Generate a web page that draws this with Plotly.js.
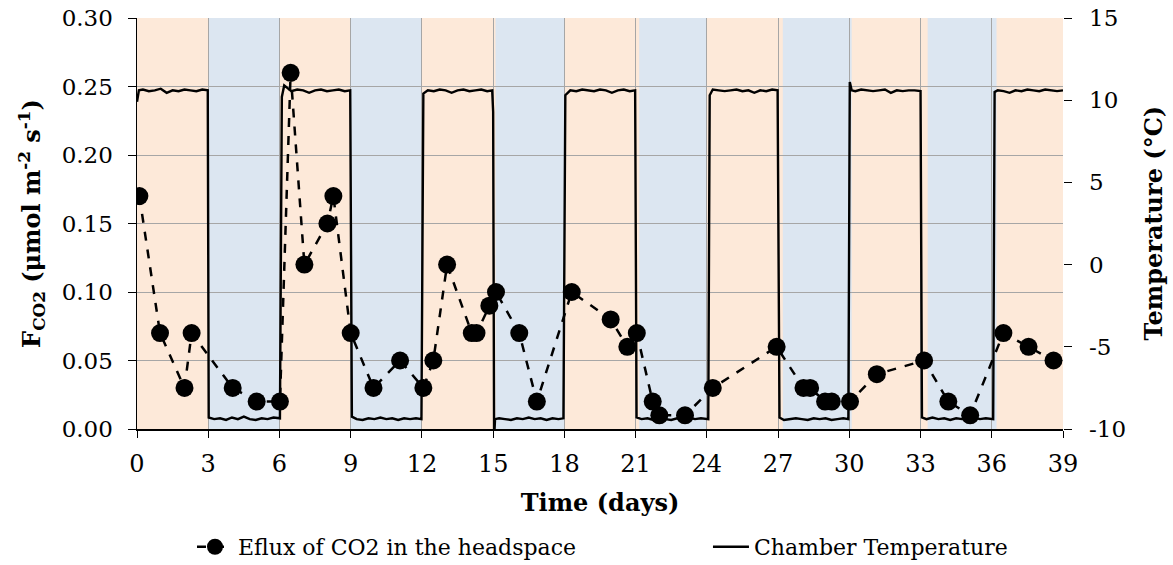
<!DOCTYPE html>
<html>
<head>
<meta charset="utf-8">
<script src="https://cdn.plot.ly/plotly-3.0.1.min.js"></script>
<style>html,body{margin:0;padding:0;background:#fff;}#chart{width:1173px;height:565px;}</style>
</head>
<body>
<div id="chart"></div>
<script>
// CO2 efflux (left axis)
const fluxDays = [0.1,0.97,2.0,2.3,4.03,5.04,6.02,6.47,7.05,8.02,8.27,9.0,9.96,11.08,12.06,12.48,13.06,14.1,14.3,14.84,15.12,16.1,16.84,18.31,19.95,20.65,21.05,21.72,22.0,23.08,24.25,26.94,28.07,28.35,28.98,29.26,30.03,31.16,33.15,34.17,35.09,36.49,37.55,38.6];
const fluxVals = [0.17,0.07,0.03,0.07,0.03,0.02,0.02,0.26,0.12,0.15,0.17,0.07,0.03,0.05,0.03,0.05,0.12,0.07,0.07,0.09,0.10,0.07,0.02,0.10,0.08,0.06,0.07,0.02,0.01,0.01,0.03,0.06,0.03,0.03,0.02,0.02,0.02,0.04,0.05,0.02,0.01,0.07,0.06,0.05];

// Chamber temperature (right axis)
const tempDays = [
 0,0.08,0.25,0.5,0.75,1,1.25,1.5,1.75,2,2.25,2.5,2.75,2.98,
 3.02,3.25,3.5,3.75,4,4.25,4.5,4.75,5,5.25,5.5,5.75,6.02,
 6.1,6.2,6.5,6.75,7,7.25,7.5,7.75,8,8.25,8.5,8.75,8.98,
 9.05,9.25,9.5,9.75,10,10.25,10.5,10.75,11,11.25,11.5,11.75,11.98,
 12.02,12.06,12.25,12.5,12.75,13,13.25,13.5,13.75,14,14.25,14.5,14.75,14.96,15.0,
 15.04,15.08,15.25,15.5,15.75,16,16.25,16.5,16.75,17,17.25,17.5,17.75,17.96,
 18.04,18.25,18.5,18.75,19,19.25,19.5,19.75,20,20.25,20.5,20.75,20.98,
 21.04,21.25,21.5,21.75,22,22.25,22.5,22.75,23,23.25,23.5,23.75,24.06,
 24.12,24.25,24.5,24.75,25,25.25,25.5,25.75,26,26.25,26.5,26.75,26.98,
 27.06,27.25,27.5,27.75,28,28.25,28.5,28.75,29,29.25,29.5,29.75,29.96,
 30.02,30.1,30.25,30.5,30.75,31,31.25,31.5,31.75,32,32.25,32.5,32.75,33.0,
 33.06,33.25,33.5,33.75,34,34.25,34.5,34.75,35,35.25,35.5,35.75,36.06,
 36.12,36.25,36.5,36.75,37,37.25,37.5,37.75,38,38.25,38.5,38.75,39.0
];
const tempC = [
 9.9,10.6,10.65,10.55,10.6,10.7,10.45,10.6,10.55,10.65,10.6,10.55,10.65,10.6,
 -9.3,-9.4,-9.35,-9.45,-9.3,-9.4,-9.25,-9.4,-9.45,-9.35,-9.4,-9.3,-9.35,
 10.2,10.9,10.55,10.65,10.6,10.45,10.6,10.65,10.55,10.6,10.65,10.55,10.6,
 -9.25,-9.4,-9.45,-9.35,-9.4,-9.3,-9.4,-9.35,-9.45,-9.35,-9.4,-9.35,-9.4,
 5.4,10.4,10.6,10.55,10.65,10.6,10.45,10.6,10.65,10.55,10.6,10.65,10.55,10.6,9.3,
 -10.6,-9.4,-9.35,-9.4,-9.45,-9.35,-9.4,-9.3,-9.4,-9.35,-9.45,-9.35,-9.4,-9.35,
 10.3,10.6,10.55,10.65,10.6,10.55,10.65,10.6,10.45,10.6,10.65,10.55,10.6,
 -9.3,-9.4,-9.35,-9.45,-9.35,-9.4,-9.45,-9.35,-9.4,-9.3,-9.4,-9.35,-9.4,
 10.3,10.65,10.6,10.55,10.6,10.65,10.55,10.6,10.45,10.6,10.55,10.65,10.6,
 -9.3,-9.45,-9.4,-9.35,-9.4,-9.45,-9.35,-9.4,-9.35,-9.45,-9.4,-9.35,-9.4,
 11.1,10.6,10.55,10.65,10.6,10.55,10.6,10.65,10.45,10.6,10.55,10.6,10.6,10.55,
 -9.3,-9.4,-9.3,-9.4,-9.35,-9.45,-9.35,-9.4,-9.35,-9.3,-9.4,-9.35,-9.4,
 10.5,10.6,10.55,10.45,10.6,10.55,10.65,10.6,10.55,10.65,10.6,10.55,10.6
];

// Cold-period background bands (days)
const bandStart = [3.0, 9.0, 15.1, 21.15, 27.2, 33.3];
const bandEnd   = [6.0, 12.0, 18.0, 24.0, 30.1, 36.2];

const xTicks = [0,3,6,9,12,15,18,21,24,27,30,33,36,39];
const tempTicks = [-10,-5,0,5,10,15];

const FONT = "DejaVu Serif, Liberation Serif, serif";

const shapes = bandStart.map((s,i)=>({
  type:'rect', xref:'x', yref:'paper', x0:s, x1:bandEnd[i], y0:0, y1:1,
  fillcolor:'#DCE6F1', line:{width:0}, layer:'below'
}));

const tickAnnots = tempTicks.map(v=>({
  text:String(v), xref:'paper', yref:'y2', x:1, y:v, xshift:24,
  xanchor:'left', yanchor:'middle', showarrow:false,
  font:{family:FONT, size:23, color:'#000'}
}));

const traces = [
  {
    x: fluxDays, y: fluxVals, type:'scatter', mode:'lines+markers',
    name:'Eflux of CO2 in the headspace',
    line:{color:'#000', width:2.5, dash:'dash'},
    marker:{color:'#000', size:18, symbol:'circle'},
    yaxis:'y', legend:'legend'
  },
  {
    x: tempDays, y: tempC, type:'scatter', mode:'lines',
    name:'Chamber Temperature',
    line:{color:'#000', width:2.4},
    yaxis:'y2', legend:'legend2'
  }
];

const legendBase = {orientation:'h', xanchor:'left', y:-0.287, yanchor:'middle',
  font:{family:FONT, size:22, color:'#000'}, bgcolor:'rgba(0,0,0,0)', itemwidth:36};

const layout = {
  width:1173, height:565,
  margin:{l:137, r:110, t:18, b:136, autoexpand:false},
  paper_bgcolor:'#fff',
  plot_bgcolor:'#FDE9D9',
  font:{family:FONT, size:22, color:'#000'},
  showlegend:true,
  legend: Object.assign({}, legendBase, {x:0.0594}),
  legend2: Object.assign({}, legendBase, {x:0.6166}),
  shapes: shapes,
  annotations:[{
    text:'<b>Temperature (°C)</b>', xref:'paper', yref:'paper', x:1.0972, y:0.5,
    xanchor:'center', yanchor:'middle', textangle:-90, showarrow:false,
    font:{family:FONT, size:24, color:'#000'}
  }].concat(tickAnnots),
  xaxis:{
    range:[0,39], tickvals:xTicks, ticktext:xTicks.map(String),
    showgrid:true, gridcolor:'#A6A6A6', gridwidth:1,
    showline:true, linecolor:'#000', linewidth:1.5,
    ticks:'outside', ticklen:7, tickcolor:'#000', ticklabelstandoff:6,
    tickfont:{family:FONT, size:24}, zeroline:false,
    title:{text:'<b>Time (days)</b>', font:{family:FONT, size:24}, standoff:17}
  },
  yaxis:{
    range:[0,0.30], dtick:0.05, tickformat:'.2f',
    showgrid:true, gridcolor:'#A6A6A6', gridwidth:1,
    showline:true, linecolor:'#000', linewidth:1.5,
    ticks:'outside', ticklen:8, tickcolor:'#000', ticklabelstandoff:10,
    tickfont:{family:FONT, size:23}, zeroline:false,
    title:{text:'<b>F<sub>CO2</sub> (μmol m<sup>-2</sup> s<sup>-1</sup>)</b>', font:{family:FONT, size:24}, standoff:14}
  },
  yaxis2:{
    range:[-10,15], tickvals:tempTicks, overlaying:'y', side:'right',
    showgrid:false, showline:false, zeroline:false, showticklabels:false,
    ticks:'outside', ticklen:8, tickcolor:'#000'
  }
};

Plotly.newPlot('chart', traces, layout, {displayModeBar:false, staticPlot:true});
</script>
</body>
</html>
